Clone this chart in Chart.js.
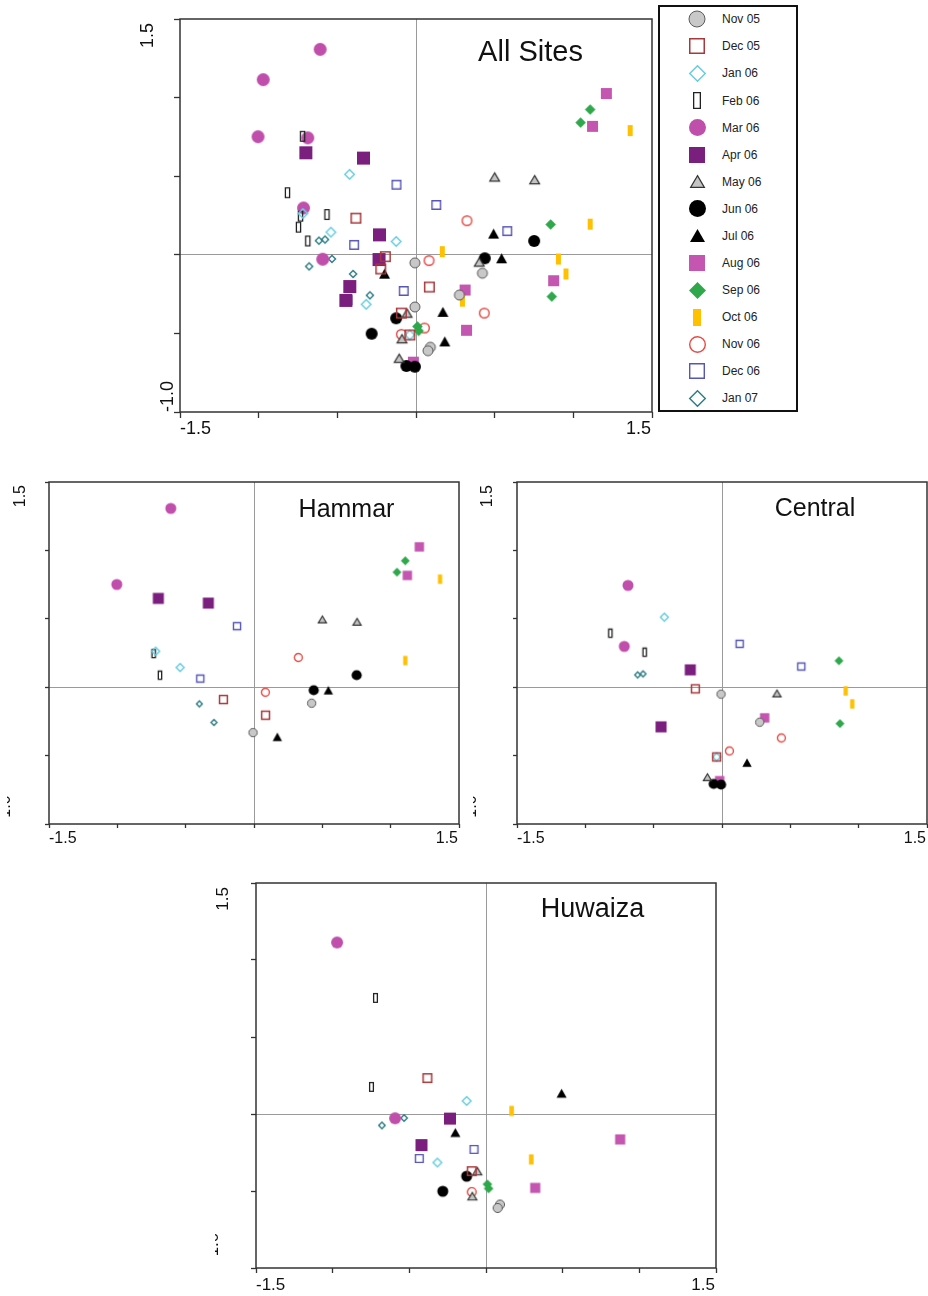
<!DOCTYPE html>
<html><head><meta charset="utf-8">
<script src="https://cdn.jsdelivr.net/npm/chart.js@4.4.1/dist/chart.umd.min.js"></script>
<style>
html,body{margin:0;padding:0;background:#fff;overflow:hidden;width:928px;height:1296px;position:relative;font-family:"Liberation Sans",Arial,sans-serif;}
canvas.panel{position:absolute;}
#legend{position:absolute;left:658px;top:5px;width:136px;height:403px;border:2px solid #111;}
.row{position:absolute;left:0;height:20px;width:136px;}
.row canvas{position:absolute;}
.row span{position:absolute;left:62px;top:0;font-size:12px;line-height:20px;color:#222;white-space:nowrap;}
</style></head><body>
<div id="legend"></div>
<script>
// ---------------- data ----------------
const months = ['Nov 05','Dec 05','Jan 06','Feb 06','Mar 06','Apr 06','May 06','Jun 06','Jul 06','Aug 06','Sep 06','Oct 06','Nov 06','Dec 06','Jan 07'];

const hammarPts = [
  [[-0.007,-0.332],[0.422,-0.117]],
  [[-0.224,-0.090],[0.085,-0.205]],
  [[-0.719,0.263],[-0.541,0.144]],
  [[-0.734,0.246],[-0.688,0.088]],
  [[-0.609,1.307],[-1.004,0.751]],
  [[-0.700,0.649],[-0.334,0.615]],
  [[0.500,0.495],[0.754,0.478]],
  [[0.437,-0.022],[0.751,0.088]],
  [[0.544,-0.022],[0.171,-0.363]],
  [[1.210,1.026],[1.122,0.817]],
  [[1.107,0.924],[1.046,0.841]],
  [[1.361,0.790],[1.107,0.195]],
  [[0.324,0.217],[0.083,-0.037]],
  [[-0.124,0.446],[-0.393,0.063]],
  [[-0.400,-0.122],[-0.293,-0.258]]
];

const centralPts = [
  [[-0.007,-0.051],[0.276,-0.256]],
  [[-0.195,-0.012],[-0.039,-0.510]],
  [[-0.422,0.512],[-0.039,-0.510]],
  [[-0.817,0.395],[-0.566,0.256]],
  [[-0.688,0.744],[-0.715,0.298]],
  [[-0.232,0.127],[-0.446,-0.290]],
  [[0.402,-0.046],[-0.107,-0.658]],
  [[-0.061,-0.707],[-0.007,-0.712]],
  [[0.183,-0.551]],
  [[0.312,-0.224],[-0.017,-0.683]],
  [[0.856,0.193],[0.863,-0.266]],
  [[0.905,-0.027],[0.953,-0.122]],
  [[0.434,-0.371],[0.054,-0.466]],
  [[0.129,0.317],[0.580,0.151]],
  [[-0.617,0.090],[-0.578,0.097]]
];

const huwaizaPts = [
  [[0.091,-0.588],[0.076,-0.610]],
  [[-0.382,0.233],[-0.093,-0.371]],
  [[-0.126,0.085],[-0.317,-0.315]],
  [[-0.721,0.754],[-0.747,0.176]],
  [[-0.971,1.114],[-0.593,-0.028]],
  [[-0.235,-0.030],[-0.421,-0.202]],
  [[-0.057,-0.371],[-0.089,-0.534]],
  [[-0.126,-0.404],[-0.282,-0.502]],
  [[-0.200,-0.120],[0.493,0.135]],
  [[0.875,-0.165],[0.321,-0.480]],
  [[0.009,-0.456],[0.017,-0.484]],
  [[0.167,0.020],[0.295,-0.295]],
  [[-0.093,-0.506]],
  [[-0.078,-0.230],[-0.435,-0.289]],
  [[-0.534,-0.026],[-0.679,-0.074]]
];

const xRange = [-1.5, 1.5];
const yRange = [-1.0, 1.5];
const tickStep = 0.5;
const xTickLabels = ['-1.5','1.5'];
const yTickLabels = ['-1.0','1.5'];

// ---------------- styles ----------------
const FONT = '"Liberation Sans", Arial, Helvetica, sans-serif';
const markerStyles = [
  {kind:'circle',  w:11, h:11, fill:'#c8c8c8', stroke:'#5a5a5a', lw:1},
  {kind:'square',  w:11, h:11, fill:null,      stroke:'#a8383a', lw:1.5},
  {kind:'diamond', w:11, h:11, fill:null,      stroke:'#68cde0', lw:1.5},
  {kind:'rect',    w:5.5,h:11, fill:null,      stroke:'#222222', lw:1.3},
  {kind:'circle',  w:13, h:13, fill:'#c04fac', stroke:null,      lw:0},
  {kind:'square',  w:13, h:13, fill:'#7b1f7f', stroke:null,      lw:0},
  {kind:'triangle',w:11, h:9.5,fill:'#c4c4c4', stroke:'#333333', lw:1.2},
  {kind:'circle',  w:12, h:12, fill:'#000000', stroke:null,      lw:0},
  {kind:'triangle',w:11, h:10, fill:'#000000', stroke:null,      lw:0},
  {kind:'square',  w:11, h:11, fill:'#c455b0', stroke:null,      lw:0},
  {kind:'diamond', w:10.5,h:10.5,fill:'#2ea84b',stroke:null,     lw:0},
  {kind:'rect',    w:5,  h:11, fill:'#ffc000', stroke:null,      lw:0},
  {kind:'circle',  w:11, h:11, fill:null,      stroke:'#e64a44', lw:1.4},
  {kind:'square',  w:10, h:10, fill:null,      stroke:'#5656b6', lw:1.4},
  {kind:'diamond', w:8.5,h:8.5,fill:null,      stroke:'#2c7c84', lw:1.4}
];
const legendSizes = {circle:[17,17], square:[16,16], diamond:[17,17], rect:[8,17], triangle:[15,13]};

function makeMarker(st, w, h) {
  const pad = st.lw + 2;
  const W = Math.ceil(w + pad), H = Math.ceil(h + pad);
  const c = document.createElement('canvas');
  c.width = W; c.height = H;
  const g = c.getContext('2d');
  const cx = W / 2, cy = H / 2;
  const ow = st.stroke ? w - st.lw : w, oh = st.stroke ? h - st.lw : h;
  g.beginPath();
  if (st.kind === 'circle') {
    g.arc(cx, cy, ow / 2, 0, Math.PI * 2);
  } else if (st.kind === 'square' || st.kind === 'rect') {
    g.rect(cx - ow / 2, cy - oh / 2, ow, oh);
  } else if (st.kind === 'diamond') {
    g.moveTo(cx, cy - oh / 2); g.lineTo(cx + ow / 2, cy); g.lineTo(cx, cy + oh / 2); g.lineTo(cx - ow / 2, cy); g.closePath();
  } else if (st.kind === 'triangle') {
    g.moveTo(cx, cy - oh / 2); g.lineTo(cx + ow / 2, cy + oh / 2); g.lineTo(cx - ow / 2, cy + oh / 2); g.closePath();
  }
  if (st.fill) { g.fillStyle = st.fill; g.fill(); }
  if (st.stroke) { g.strokeStyle = st.stroke; g.lineWidth = st.lw; g.lineJoin = 'miter'; g.stroke(); }
  return c;
}

// ---------------- legend ----------------
const legendEl = document.getElementById('legend');
months.forEach((m, i) => {
  const row = document.createElement('div');
  row.className = 'row';
  row.style.top = (12.3 + 27.07 * i - 10) + 'px';
  const st = markerStyles[i];
  const [lw_, lh_] = legendSizes[st.kind];
  const mk = makeMarker(st, lw_, lh_);
  mk.style.left = (37 - mk.width / 2) + 'px';
  mk.style.top = (10 - mk.height / 2) + 'px';
  row.appendChild(mk);
  const sp = document.createElement('span');
  sp.textContent = m;
  row.appendChild(sp);
  legendEl.appendChild(row);
});

// ---------------- panels ----------------
const allPts = months.map((m, i) => [].concat(hammarPts[i], centralPts[i], huwaizaPts[i]));

const panels = [
  {title:'All Sites', pts:allPts, plot:[180,19,652,412], tl:6, scale:1.0, R:4,
   titleFont:29, titleX:530.5, titleY:61, tickFont:18, xBase:434,
   yTopEnd:23, yTopBase:153, yBotStart:412, yBotBase:173, yBotClip:null},
  {title:'Hammar', pts:hammarPts, plot:[49,482,459,824], tl:4, scale:0.85, R:4,
   titleFont:25, titleX:346.5, titleY:517, tickFont:16, xBase:843,
   yTopEnd:485, yTopBase:25, yBotStart:823, yBotBase:10, yBotClip:3},
  {title:'Central', pts:centralPts, plot:[517,482,927,824], tl:4, scale:0.85, R:1,
   titleFont:25, titleX:815, titleY:516, tickFont:16, xBase:843,
   yTopEnd:485, yTopBase:492, yBotStart:823, yBotBase:476, yBotClip:3},
  {title:'Huwaiza', pts:huwaizaPts, plot:[256,883,716,1268], tl:5, scale:0.92, R:4,
   titleFont:27, titleX:592.5, titleY:917, tickFont:17, xBase:1290,
   yTopEnd:887, yTopBase:228, yBotStart:1262, yBotBase:218, yBotClip:3}
];

const decor = {
  id: 'decor',
  afterDraw(chart, args, o) {
    const {ctx, chartArea: a} = chart;
    const xs = chart.scales.x, ys = chart.scales.y;
    ctx.save();
    ctx.strokeStyle = '#333'; ctx.lineWidth = 1.5;
    ctx.strokeRect(a.left, a.top, a.right - a.left, a.bottom - a.top);
    ctx.fillStyle = '#111';
    ctx.textBaseline = 'alphabetic';
    // title
    ctx.font = o.titleFont + 'px ' + FONT;
    ctx.textAlign = 'center';
    ctx.fillText(o.title, o.titleX - o.ox, o.titleY - o.oy);
    // x end labels
    ctx.font = o.tickFont + 'px ' + FONT;
    ctx.textAlign = 'left';
    ctx.fillText(xTickLabels[0], xs.getPixelForValue(xRange[0]), o.xBase - o.oy);
    ctx.textAlign = 'right';
    ctx.fillText(xTickLabels[1], xs.getPixelForValue(xRange[1]) - 1, o.xBase - o.oy);
    // y top label (rotated)
    const yTop = ys.getPixelForValue(yRange[1]) + (o.yTopEnd - o.plotTop);
    ctx.save();
    ctx.translate(o.yTopBase - o.ox, yTop);
    ctx.rotate(-Math.PI / 2);
    ctx.textAlign = 'right';
    ctx.fillText(yTickLabels[1], 0, 0);
    ctx.restore();
    // y bottom label (rotated, possibly cut)
    const yBot = ys.getPixelForValue(yRange[0]) + (o.yBotStart - o.plotBottom);
    ctx.save();
    if (o.yBotClip) {
      ctx.beginPath();
      ctx.rect(o.yBotBase - o.ox - o.yBotClip, 0, o.yBotClip + 2, chart.height);
      ctx.clip();
    }
    ctx.translate(o.yBotBase - o.ox, yBot);
    ctx.rotate(-Math.PI / 2);
    ctx.textAlign = 'left';
    ctx.fillText(yTickLabels[0], 0, 0);
    ctx.restore();
    ctx.restore();
  }
};

panels.forEach(p => {
  const [l, t, r, b] = p.plot;
  const L = 60, T = 6, B = 34, R = p.R;
  const cv = document.createElement('canvas');
  cv.className = 'panel';
  const ox = l - L, oy = t - T;
  cv.width = (r - l) + L + R;
  cv.height = (b - t) + T + B;
  cv.style.left = ox + 'px';
  cv.style.top = oy + 'px';
  document.body.appendChild(cv);

  const datasets = months.map((m, i) => {
    const st = markerStyles[i];
    const img = makeMarker(st, st.w * p.scale, st.h * p.scale);
    return {
      label: m,
      data: p.pts[i].map(q => ({x: q[0], y: q[1]})),
      pointStyle: img,
      pointRadius: 5,
      showLine: false
    };
  });

  const gridFor = () => ({
    color: c => (c.tick && c.tick.value === 0) ? '#9a9a9a' : 'rgba(0,0,0,0)',
    lineWidth: 1,
    drawTicks: true,
    tickLength: p.tl,
    tickColor: '#333',
    tickWidth: 1.3
  });

  const chart = new Chart(cv, {
    type: 'scatter',
    data: {datasets},
    options: {
      responsive: false,
      animation: false,
      events: [],
      layout: {autoPadding: false, padding: {left: L - p.tl, top: T, right: R, bottom: B - p.tl}},
      plugins: {
        legend: {display: false},
        tooltip: {enabled: false},
        decor: Object.assign({}, p, {ox, oy, plotTop: t, plotBottom: b})
      },
      scales: {
        x: {type: 'linear', min: xRange[0], max: xRange[1],
            ticks: {display: false, stepSize: tickStep},
            grid: gridFor(), border: {display: false}},
        y: {type: 'linear', min: yRange[0], max: yRange[1],
            ticks: {display: false, stepSize: tickStep},
            grid: gridFor(), border: {display: false}}
      }
    },
    plugins: [decor]
  });

  // fine-tune layout padding so the plot area lands exactly on the target box
  const a = chart.chartArea;
  const pad = chart.options.layout.padding;
  const dl = (l - ox) - a.left, dt = (t - oy) - a.top, dr = a.right - (r - ox), db = a.bottom - (b - oy);
  if (Math.abs(dl) > 0.5 || Math.abs(dt) > 0.5 || Math.abs(dr) > 0.5 || Math.abs(db) > 0.5) {
    chart.options.layout.padding = {left: pad.left + dl, top: pad.top + dt, right: pad.right + dr, bottom: pad.bottom + db};
    chart.update();
  }
});
</script>
</body></html>
